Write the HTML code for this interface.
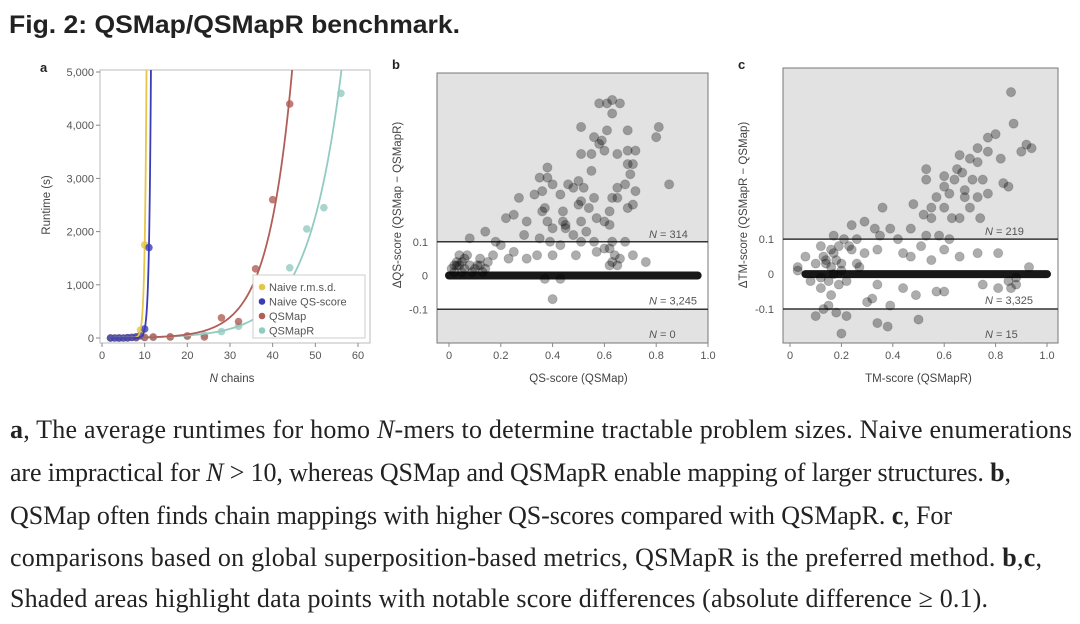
<!DOCTYPE html>
<html><head><meta charset="utf-8"><style>
html,body{margin:0;padding:0;background:#fff;width:1080px;height:624px;overflow:hidden}
svg{display:block}
.tk{font-family:"Liberation Sans",sans-serif;font-size:11px;fill:#555}
.lb{font-family:"Liberation Sans",sans-serif;font-size:11.5px;fill:#444}
.cap{font-family:"Liberation Serif",serif;font-size:26px;fill:#222}
</style></head><body>
<svg id="fig" width="1080" height="624" viewBox="0 0 1080 624">
<text x="9" y="33" font-family="Liberation Sans,sans-serif" font-weight="bold" font-size="25" fill="#222" textLength="451" lengthAdjust="spacingAndGlyphs">Fig. 2: QSMap/QSMapR benchmark.</text>
<g id="pa"></g>
<g id="pb"></g>
<g id="pc"></g>
<g>
<text class="cap" x="10" y="438" textLength="1062" lengthAdjust="spacing"><tspan font-weight="bold">a</tspan>, The average runtimes for homo <tspan font-style="italic">N</tspan>-mers to determine tractable problem sizes. Naive enumerations</text>
<text class="cap" x="10" y="481" textLength="1001" lengthAdjust="spacing">are impractical for <tspan font-style="italic">N</tspan> &gt; 10, whereas QSMap and QSMapR enable mapping of larger structures. <tspan font-weight="bold">b</tspan>,</text>
<text class="cap" x="10" y="524" textLength="942" lengthAdjust="spacing">QSMap often finds chain mappings with higher QS-scores compared with QSMapR. <tspan font-weight="bold">c</tspan>, For</text>
<text class="cap" x="10" y="566" textLength="1032" lengthAdjust="spacing">comparisons based on global superposition-based metrics, QSMapR is the preferred method. <tspan font-weight="bold">b</tspan>,<tspan font-weight="bold">c</tspan>,</text>
<text class="cap" x="10" y="607" textLength="978" lengthAdjust="spacing">Shaded areas highlight data points with notable score differences (absolute difference ≥ 0.1).</text>
</g>
</svg>
<script>
// ---- Panel a data ----
const aSeriesNames = ["Naive r.m.s.d.","Naive QS-score","QSMap","QSMapR"];
const aColors = ["#e6c64a","#3a3db5","#b05e57","#93cbc2"];
const rmsdX = [2,3,4,5,6,7,8,9,10];
const rmsdY = [0,0,0,0,5,10,20,150,1750];
const qsNaiveX = [2,3,4,5,6,7,8,9,10,11];
const qsNaiveY = [0,0,0,0,5,10,20,40,170,1700];
const qsmapX = [2,4,6,8,10,12,16,20,24,28,32,36,40,44];
const qsmapY = [0,0,0,5,10,20,20,40,20,380,310,1300,2600,4400];
const qsmaprX = [2,4,6,8,10,12,16,20,24,28,32,44,48,52,56];
const qsmaprY = [0,0,0,5,10,10,20,30,50,120,220,1320,2050,2450,4600];
const aYTicks = [0,1000,2000,3000,4000,5000];
const aYTickLabels = ["0","1,000","2,000","3,000","4,000","5,000"];
const aXTicks = [0,10,20,30,40,50,60];

// ---- Panel b data ----
const bX = [.63,.66,.58,.61,.63,.51,.56,.59,.61,.69,.81,.80,.58,.51,.55,.60,.65,.69,.72,.69,.71,.38,.55,.35,.38,.50,.46,.40,.70,.85,.68,.65,.72,.33,.36,.27,.43,.52,.48,.51,.56,.63,.65,.69,.71,.37,.36,.44,.50,.54,.62,.22,.25,.30,.38,.44,.45,.40,.51,.57,.60,.62,.53,.45,.48,.14,.08,.18,.29,.35,.39,.51,.56,.63,.68,.20,.43,.62,.57,.49,.40,.34,.25,.17,.12,.07,.23,.30,.71,.63,.65,.76,.04,.06,.11,.03,.40,.43,.37,.01,.02,.03,.04,.05,.06,.08,.10,.12,.14,.02,.05,.09,.15,.13,.60,.64,.66,.62];
const bY = [.52,.51,.51,.51,.48,.44,.41,.40,.43,.43,.44,.41,.39,.36,.36,.37,.36,.37,.37,.33,.33,.32,.31,.29,.29,.28,.27,.27,.30,.27,.27,.26,.25,.24,.25,.23,.24,.26,.26,.22,.23,.23,.23,.20,.21,.20,.19,.19,.21,.20,.19,.17,.18,.16,.16,.16,.15,.14,.16,.17,.16,.15,.13,.14,.12,.13,.11,.10,.12,.11,.10,.10,.10,.10,.10,.09,.09,.08,.07,.06,.06,.06,.07,.06,.05,.06,.05,.05,.06,.04,.03,.04,.06,.05,.03,.03,-.07,-.01,-.01,.02,.03,.04,.03,.04,.02,.03,.02,.03,.02,.01,.01,.01,.04,.01,.08,.06,.05,.03];
const bBandRange = [0,0.96];
const bCounts = ["314","3,245","0"];
const bYTicks = [0.1,0,-0.1];
const bYTickLabels = ["0.1","0","-0.1"];
const bXTicks = [0,0.2,0.4,0.6,0.8,1.0];
const bXTickLabels = ["0","0.2","0.4","0.6","0.8","1.0"];

// ---- Panel c data ----
const cX = [.86,.87,.80,.77,.73,.77,.82,.90,.92,.94,.66,.70,.73,.53,.65,.67,.60,.64,.53,.71,.75,.85,.83,.60,.68,.57,.62,.68,.73,.77,.48,.36,.55,.60,.70,.74,.52,.55,.63,.66,.29,.33,.24,.39,.47,.53,.58,.62,.17,.21,.26,.35,.42,.12,.16,.19,.23,.29,.34,.44,.51,.60,.66,.73,.81,.06,.10,.14,.20,.26,.47,.55,.03,.08,.12,.16,.19,.34,.44,.49,.57,.60,.75,.81,.86,.88,.10,.13,.18,.20,.22,.34,.38,.39,.30,.32,.50,.15,.03,.17,.12,.14,.16,.18,.20,.22,.13,.15,.17,.24,.27,.85,.88,.93];
const cY = [.52,.43,.40,.39,.36,.35,.33,.35,.37,.36,.34,.33,.32,.30,.30,.29,.28,.27,.27,.27,.27,.25,.26,.25,.24,.22,.23,.22,.22,.23,.20,.19,.19,.19,.19,.16,.17,.16,.16,.16,.15,.13,.14,.13,.13,.11,.11,.10,.11,.10,.10,.11,.10,.08,.07,.08,.08,.06,.07,.06,.08,.07,.05,.06,.06,.05,.03,.04,.03,.03,.05,.04,.01,-.02,-.04,-.06,-.03,-.03,-.04,-.06,-.05,-.05,-.03,-.04,-.04,-.03,-.12,-.10,-.11,-.17,-.12,-.14,-.15,-.09,-.08,-.07,-.13,-.09,.02,0,-.01,.03,.02,.04,.01,-.02,.05,-.02,.06,.07,.02,-.02,-.01,.02];
const cBandRange = [0.06,1.0];
const cCounts = ["219","3,325","15"];
const cYTicks = [0.1,0,-0.1];
const cYTickLabels = ["0.1","0","-0.1"];
const cXTicks = [0,0.2,0.4,0.6,0.8,1.0];
const cXTickLabels = ["0","0.2","0.4","0.6","0.8","1.0"];

const NS="http://www.w3.org/2000/svg";
function mk(parent,tag,attrs,text){const e=document.createElementNS(NS,tag);for(const k in attrs)e.setAttribute(k,attrs[k]);if(text!==undefined)e.textContent=text;parent.appendChild(e);return e;}

// ===== Panel a =====
(function(){
const g=document.getElementById('pa');
const L=100,R=370,T=72,B=338,FB=343;
const sx=v=>102+(v/60)*256, sy=v=>B-(v/5000)*(B-T);
let e;
e=mk(g,'rect',{x:L,y:T-2,width:R-L,height:FB-T+2,fill:'#fff',stroke:'#bbb','stroke-width':1});


e=mk(g,'text',{x:40,y:72,'font-family':'Liberation Sans,sans-serif','font-weight':'bold','font-size':13,fill:'#222'},'a');


aYTicks.forEach((v,i)=>{
  mk(g,'line',{x1:L-4,x2:L,y1:sy(v),y2:sy(v),stroke:'#888'});
  e=mk(g,'text',{x:L-6,y:sy(v)+4,'text-anchor':'end',class:'tk'},aYTickLabels[i]);
  
  
});
aXTicks.forEach(v=>{
  mk(g,'line',{x1:sx(v),x2:sx(v),y1:FB,y2:FB+4,stroke:'#888'});
  e=mk(g,'text',{x:sx(v),y:FB+16,'text-anchor':'middle',class:'tk'},String(v));
  
  
});
e=mk(g,'text',{x:0,y:0,'text-anchor':'middle',class:'lb',transform:'translate(50,205) rotate(-90)'},'Runtime (s)');


e=mk(g,'text',{x:232,y:382,'text-anchor':'middle',class:'lb'});
e.innerHTML='<tspan font-style="italic">N</tspan> chains';


const defs=mk(g,'defs',{});const cp=mk(defs,'clipPath',{id:'clipA'});mk(cp,'rect',{x:L,y:T-2,width:R-L,height:FB-T+2});
const series=[[rmsdX,rmsdY],[qsNaiveX,qsNaiveY],[qsmapX,qsmapY],[qsmaprX,qsmaprY]];
const order=[3,2,0,1];
order.forEach(si=>{
  const [xs,ys]=series[si];
  xs.forEach((x,i)=>{
    e=mk(g,'circle',{cx:sx(x),cy:sy(ys[i]),r:3.8,fill:aColors[si],opacity:0.8});
    
    
  });
});
order.forEach(si=>{
  const [xs,ys]=series[si];
  const px=[],py=[];xs.forEach((x,i)=>{if(ys[i]>=100){px.push(x);py.push(Math.log(ys[i]));}});
  const n=px.length,mx=px.reduce((a,b)=>a+b)/n,my=py.reduce((a,b)=>a+b)/n;
  let num=0,den=0;for(let i=0;i<n;i++){num+=(px[i]-mx)*(py[i]-my);den+=(px[i]-mx)**2;}
  const b=num/den,a=my-b*mx;
  let d='';const x0=xs[0];const xe=(Math.log(5300)-a)/b;
  for(let k=0;k<=200;k++){const x=x0+(xe-x0)*k/200;const y=Math.exp(a+b*x);d+=(k?'L':'M')+sx(x).toFixed(2)+','+sy(y).toFixed(2);}
  e=mk(g,'path',{d:d,fill:'none',stroke:aColors[si],'stroke-width':1.8,'clip-path':'url(#clipA)'});
  
  
});
const lg=mk(g,'g',{});


mk(lg,'rect',{x:253,y:275,width:112,height:63,fill:'#fff',stroke:'#ccc'});
aSeriesNames.forEach((nm,i)=>{
  const y=287+i*14.5;
  mk(lg,'circle',{cx:262,cy:y,r:3.3,fill:aColors[i]});
  e=mk(lg,'text',{x:269,y:y+4,class:'tk','font-size':11.5,fill:'#444'},nm);
  
  
});
})();

// ===== Scatter panels =====
function scatter(id,opt){
  const g=document.getElementById(id);
  const {L,R,T,B,x0,x1,ymin,ymax,xs,ys,band,counts,letter,ylab,xlab,lx,yticks,ylabels,xticks,xlabels,ylx}=opt;
  const sx=v=>x0+v*(x1-x0), sy=v=>B-(v-ymin)/(ymax-ymin)*(B-T);
  let e;
  e=mk(g,'rect',{x:L,y:T,width:R-L,height:B-T,fill:'#e2e2e2',stroke:'#777','stroke-width':1});
  
  
  e=mk(g,'rect',{x:L+0.5,y:sy(0.1),width:R-L-1,height:sy(-0.1)-sy(0.1),fill:'#fff'});
  
  
  [0.1,-0.1].forEach(v=>{
    e=mk(g,'line',{x1:L,x2:R,y1:sy(v),y2:sy(v),stroke:'#333','stroke-width':1.5});
    
    
  });
  e=mk(g,'line',{x1:sx(band[0]),x2:sx(band[1]),y1:sy(0),y2:sy(0),stroke:'#000','stroke-width':8,'stroke-linecap':'round',opacity:0.9});
  
  
  xs.forEach((x,i)=>{
    e=mk(g,'circle',{cx:sx(x),cy:sy(ys[i]),r:4.6,fill:'#000','fill-opacity':0.32,stroke:'#000','stroke-opacity':0.15});
    
    
  });
  const cy=[sy(0.1)-4,sy(-0.1)-5,B-5];
  counts.forEach((c,i)=>{
    e=mk(g,'text',{x:lx,y:cy[i],class:'tk','font-size':11.5,fill:'#333'});
    e.innerHTML='<tspan font-style="italic">N</tspan> = '+c;
    
    
  });
  yticks.forEach((v,i)=>{
    e=mk(g,'text',{x:L-9,y:sy(v)+4,'text-anchor':'end',class:'tk'},ylabels[i]);
    
    
  });
  xticks.forEach((v,i)=>{
    mk(g,'line',{x1:sx(v),x2:sx(v),y1:B,y2:B+4,stroke:'#888'});
    e=mk(g,'text',{x:sx(v),y:B+16,'text-anchor':'middle',class:'tk'},xlabels[i]);
    
    
  });
  e=mk(g,'text',{x:L-45,y:69,'font-family':'Liberation Sans,sans-serif','font-weight':'bold','font-size':13,fill:'#222'},letter);
  
  
  e=mk(g,'text',{x:0,y:0,'text-anchor':'middle',class:'lb',transform:'translate('+ylx+',205) rotate(-90)'},ylab);
  
  
  e=mk(g,'text',{x:(x0+x1)/2,y:382,'text-anchor':'middle',class:'lb'},xlab);
  
  
}
scatter('pb',{L:437,R:708,T:73,B:343,x0:449,x1:708,ymin:-0.2,ymax:0.6,xs:bX,ys:bY,band:bBandRange,counts:bCounts,letter:'b',
  ylab:'ΔQS-score (QSMap − QSMapR)',xlab:'QS-score (QSMap)',lx:649,yticks:bYTicks,ylabels:bYTickLabels,xticks:bXTicks,xlabels:bXTickLabels,ylx:401});
scatter('pc',{L:783,R:1058,T:68,B:343,x0:790,x1:1047,ymin:-0.197,ymax:0.589,xs:cX,ys:cY,band:cBandRange,counts:cCounts,letter:'c',
  ylab:'ΔTM-score (QSMapR − QSMap)',xlab:'TM-score (QSMapR)',lx:985,yticks:cYTicks,ylabels:cYTickLabels,xticks:cXTicks,xlabels:cXTickLabels,ylx:747});
</script>
</body></html>
